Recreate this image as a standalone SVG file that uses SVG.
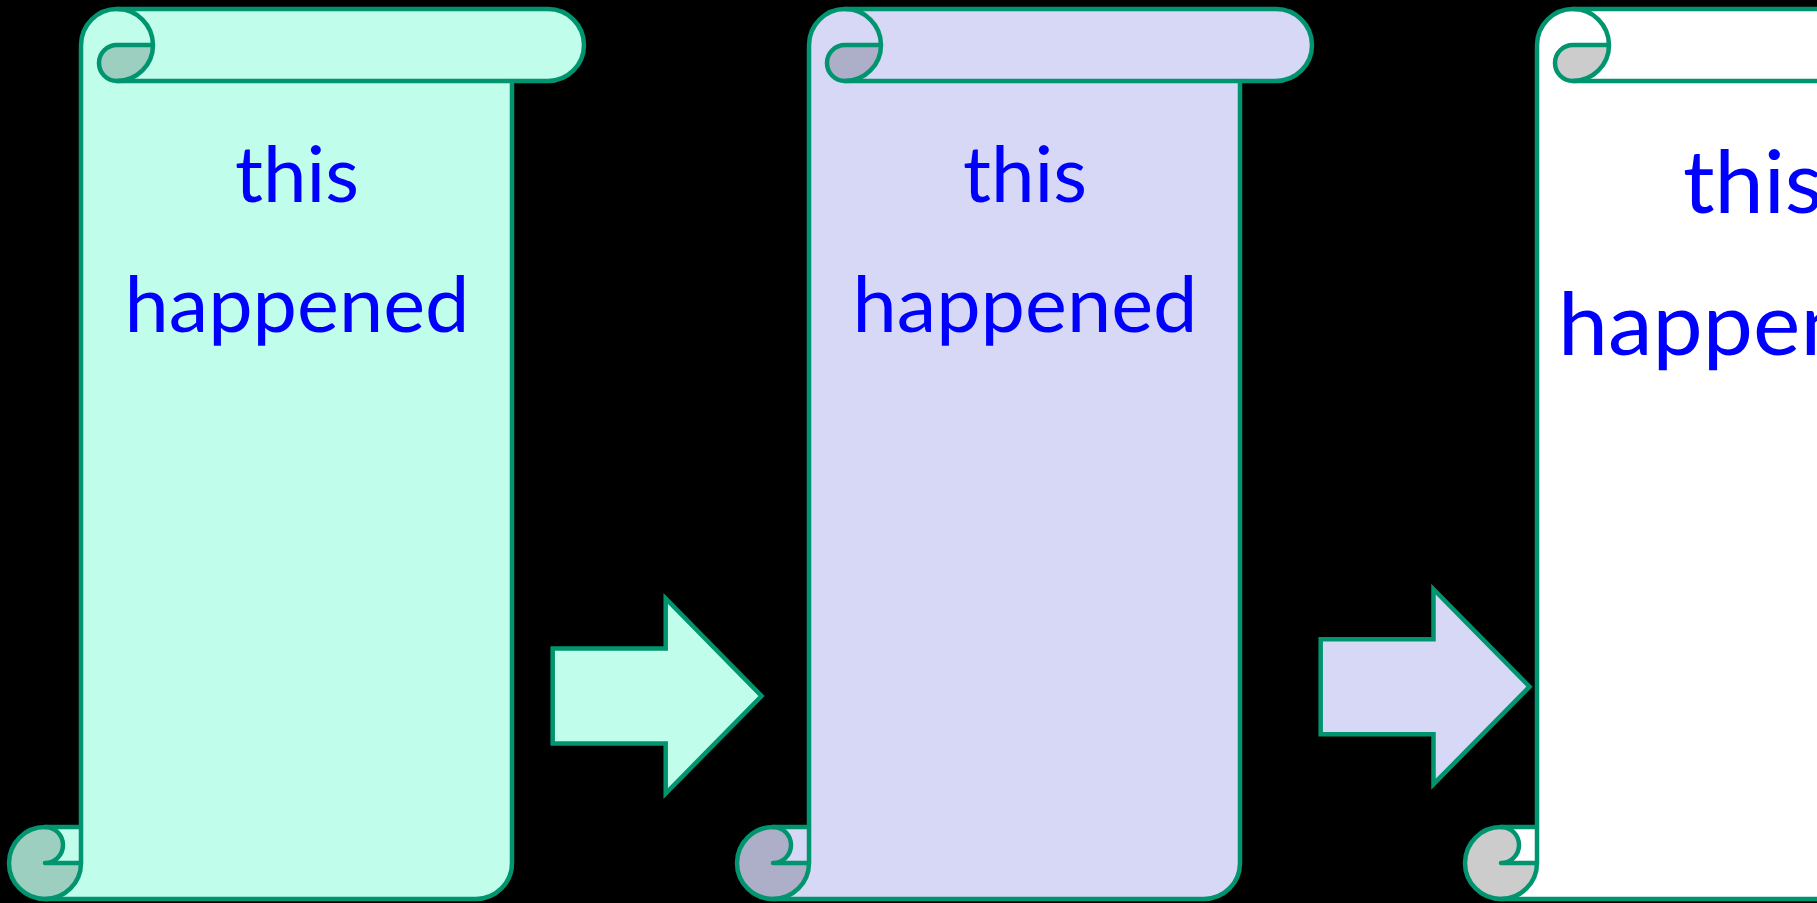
<svg xmlns="http://www.w3.org/2000/svg" xmlns:xlink="http://www.w3.org/1999/xlink" width="1817" height="903" viewBox="0 0 1817 903">
  <style>
    .arrow { stroke: #00956F; stroke-width: 4.5; stroke-linejoin: miter; }
    .label { font-family: Lato, "Open Sans", "Liberation Sans", sans-serif; fill: #0000FF; text-anchor: middle; }
    .mint { fill: #C1FDEB; }
    .mint-dark { fill: #9DCFC0; }
    .lav { fill: #D6D8F5; }
    .lav-dark { fill: #ADAFC8; }
    .white { fill: #FFFFFF; }
    .white-dark { fill: #CCCCCC; }
  </style>
  <defs>
    <!-- vertical scroll shape: paper body, rolled top bar, rolled bottom-left corner -->
    <path id="scroll-body" d="M81,45 A36,36 0 0 1 117,9 L548,9 A36,36 0 0 1 548,81 L512,81 L512,863 A36,36 0 0 1 476,899 L45,899 L45,827 L81,827 Z"/>
    <path id="scroll-curls" d="M153,45 A36,36 0 0 1 117,81 A18,18 0 0 1 117,45 Z M45,827 A36,36 0 1 0 81,863 L45,863 A18,18 0 0 0 45,827 Z"/>
    <g id="scroll-lines" fill="none" stroke="#00956F" stroke-width="4.5" stroke-linejoin="round" stroke-linecap="round">
      <path d="M81,863 L81,45 A36,36 0 0 1 117,9 L548,9 A36,36 0 0 1 548,81 L512,81 L512,863 A36,36 0 0 1 476,899 L45,899 A36,36 0 0 1 9,863 A36,36 0 0 1 45,827 A18,18 0 0 1 45,863 L81,863"/>
      <path d="M81,863 A36,36 0 0 1 45,899"/>
      <path d="M45,827 L81,827"/>
      <path d="M117,9 A36,36 0 0 1 117,81 A18,18 0 0 1 117,45 L153,45"/>
      <path d="M512,81 L117,81"/>
    </g>
  </defs>

  <rect x="0" y="0" width="1817" height="903" fill="#000000"/>

  <g id="scroll-1">
    <use xlink:href="#scroll-body" class="mint"/>
    <use xlink:href="#scroll-curls" class="mint-dark"/>
    <use xlink:href="#scroll-lines"/>
    <text class="label" x="297" y="202" font-size="78" textLength="124" lengthAdjust="spacingAndGlyphs">this</text>
    <text class="label" x="297" y="332" font-size="78" textLength="345" lengthAdjust="spacingAndGlyphs">happened</text>
  </g>

  <g id="scroll-2" transform="translate(728,0)">
    <use xlink:href="#scroll-body" class="lav"/>
    <use xlink:href="#scroll-curls" class="lav-dark"/>
    <use xlink:href="#scroll-lines"/>
    <text class="label" x="297" y="202" font-size="78" textLength="124" lengthAdjust="spacingAndGlyphs">this</text>
    <text class="label" x="297" y="332" font-size="78" textLength="345" lengthAdjust="spacingAndGlyphs">happened</text>
  </g>

  <g id="scroll-3" transform="translate(1456,0)">
    <use xlink:href="#scroll-body" class="white"/>
    <use xlink:href="#scroll-curls" class="white-dark"/>
    <use xlink:href="#scroll-lines"/>
    <text class="label" x="297" y="213" font-size="88" textLength="140" lengthAdjust="spacingAndGlyphs">this</text>
    <text class="label" x="297" y="355" font-size="88" textLength="390" lengthAdjust="spacingAndGlyphs">happened</text>
  </g>

  <g id="connectors">
    <polygon class="arrow mint" points="552.7,648.5 665.7,648.5 665.7,598.5 761.5,696 665.7,793.5 665.7,743.5 552.7,743.5"/>
    <polygon class="arrow lav" points="1320.7,639.2 1433.5,639.2 1433.5,589.2 1529.5,686.7 1433.5,784.2 1433.5,734.2 1320.7,734.2"/>
  </g>
</svg>
